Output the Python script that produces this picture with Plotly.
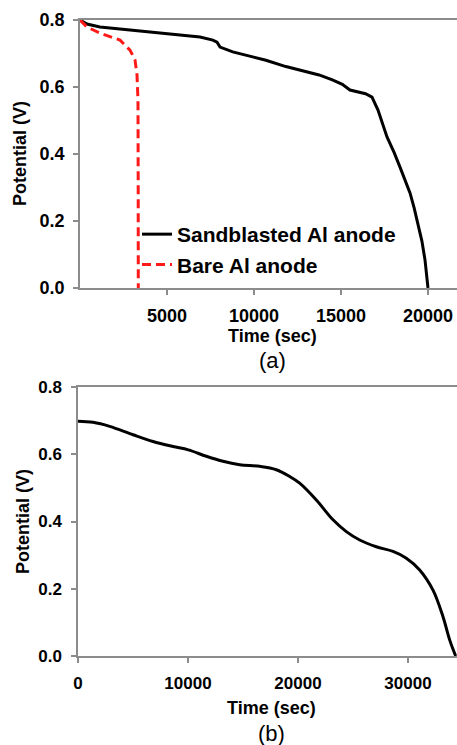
import plotly.graph_objects as go

# ---- data ----
sand_t = [0, 400, 1149, 2874, 4598, 6897, 7634, 7874, 8050, 8779, 9924, 10687, 11832, 12644,
          13740, 14504, 15076, 15517, 16412, 16782, 17126, 17644, 18050, 18391, 18700, 18966,
          19200, 19425, 19650, 19828, 20000]
sand_v = [0.800, 0.788, 0.779, 0.770, 0.761, 0.749, 0.740, 0.734, 0.719, 0.705, 0.690, 0.680,
          0.661, 0.651, 0.636, 0.621, 0.608, 0.591, 0.580, 0.570, 0.531, 0.451, 0.405, 0.361,
          0.322, 0.284, 0.240, 0.194, 0.140, 0.084, 0.0]
bare_t = [0, 402, 1149, 1800, 2299, 2874, 3161, 3276, 3333, 3345, 3350]
bare_v = [0.800, 0.779, 0.761, 0.750, 0.740, 0.710, 0.681, 0.636, 0.561, 0.300, 0.0]

b_t = [0, 1364, 2879, 5000, 6818, 8636, 10030, 11667, 13182, 14697, 16515, 18030, 19242,
       20152, 21667, 23182, 24394, 25606, 27121, 28636, 29848, 31061, 32273, 33182, 33788, 34333]
b_v = [0.698, 0.695, 0.683, 0.658, 0.638, 0.623, 0.613, 0.594, 0.579, 0.569, 0.564, 0.554,
       0.534, 0.514, 0.464, 0.405, 0.370, 0.345, 0.325, 0.311, 0.291, 0.256, 0.196, 0.117,
       0.048, 0.0]

top_xticks = [5000, 10000, 15000, 20000]
bot_xticks = [0, 10000, 20000, 30000]
yticks = [0.0, 0.2, 0.4, 0.6, 0.8]

W, H = 457, 745
def px(x): return x / W
def py(y): return 1 - y / H

FONT = "Arial, Liberation Sans, sans-serif"
AX = "#8c8c8c"

fig = go.Figure()
fig.add_trace(go.Scatter(x=sand_t, y=sand_v, mode="lines", name="Sandblasted Al anode",
                         line=dict(color="black", width=3), xaxis="x", yaxis="y"))
fig.add_trace(go.Scatter(x=bare_t, y=bare_v, mode="lines", name="Bare Al anode",
                         line=dict(color="#ff1a1a", width=3, dash="9px,5px"), xaxis="x", yaxis="y"))
fig.add_trace(go.Scatter(x=b_t, y=b_v, mode="lines", name="b", showlegend=False,
                         line=dict(color="black", width=3, shape="spline"), xaxis="x2", yaxis="y2"))

common_ax = dict(showline=True, linecolor=AX, linewidth=1.5, showgrid=False, zeroline=False,
                 ticks="outside", ticklen=5, tickcolor=AX, tickwidth=1.5)

fig.update_layout(
    width=W, height=H,
    margin=dict(l=0, r=0, t=0, b=0, autoexpand=False),
    paper_bgcolor="white", plot_bgcolor="white",
    font=dict(family=FONT, color="black"),
    xaxis=dict(domain=[px(80), 1], range=[0, 21667], tickvals=top_xticks, tickformat="d",
               tickfont=dict(size=18, family=FONT, weight="bold"), mirror=True,
               ticklabelstandoff=6, anchor="y", **common_ax),
    yaxis=dict(domain=[py(288), py(20)], range=[0, 0.8], tickvals=yticks, tickformat=".1f",
               tickfont=dict(size=18, family=FONT, weight="bold"),
               ticklabelstandoff=5, anchor="x", **common_ax),
    xaxis2=dict(domain=[px(78), 1], range=[0, 34455], tickvals=bot_xticks, tickformat="d",
                tickfont=dict(size=17, family=FONT, weight="bold"), mirror=True,
                ticklabelstandoff=6, anchor="y2", **common_ax),
    yaxis2=dict(domain=[py(656), py(387)], range=[0, 0.8], tickvals=yticks, tickformat=".1f",
                tickfont=dict(size=17, family=FONT, weight="bold"),
                ticklabelstandoff=6, anchor="x2", **common_ax),
    legend=dict(x=px(137), y=py(214), xanchor="left", yanchor="top",
                bgcolor="rgba(0,0,0,0)", font=dict(size=21, family=FONT, weight="bold"),
                tracegroupgap=0, itemwidth=30),
    showlegend=True,
)

ann = [
    dict(text="<b>Time (sec)</b>", x=px(272), y=py(336), size=18, angle=0),
    dict(text="(a)", x=px(272), y=py(360), size=22, angle=0),
    dict(text="<b>Potential (V)</b>", x=px(20), y=py(154), size=18, angle=-90),
    dict(text="<b>Time (sec)</b>", x=px(271), y=py(708), size=18, angle=0),
    dict(text="(b)", x=px(271), y=py(733), size=22, angle=0),
    dict(text="<b>Potential (V)</b>", x=px(23), y=py(522), size=18, angle=-90),
]
for a in ann:
    fig.add_annotation(text=a["text"], x=a["x"], y=a["y"], xref="paper", yref="paper",
                       showarrow=False, textangle=a["angle"], xanchor="center", yanchor="middle",
                       font=dict(size=a["size"], family=FONT, color="black"))

fig.write_html("out.html", config={"displayModeBar": False},
               post_script="document.body.style.margin='0';document.body.style.overflow='hidden';")
